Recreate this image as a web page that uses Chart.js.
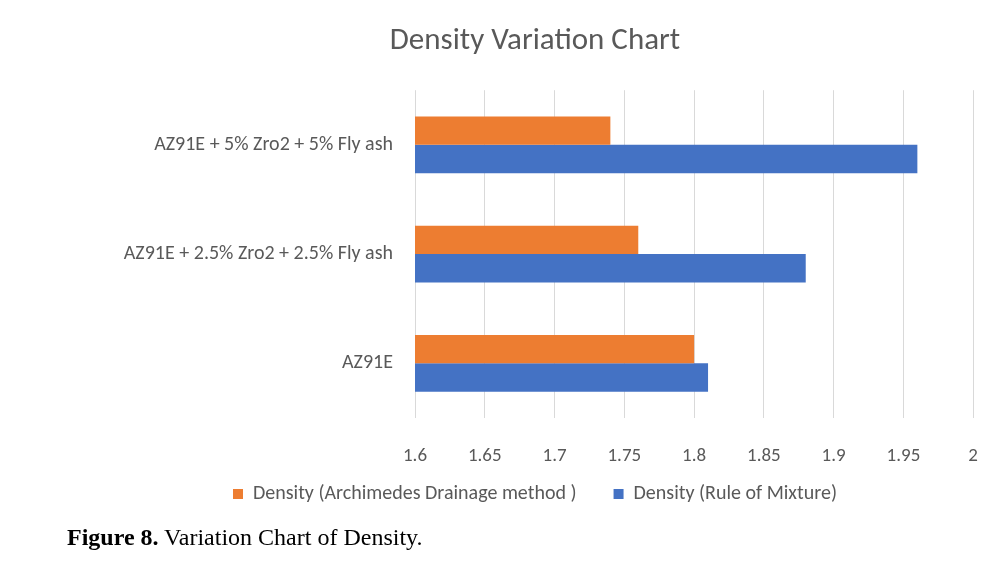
<!DOCTYPE html>
<html>
<head>
<meta charset="utf-8">
<script src="https://cdn.jsdelivr.net/npm/chart.js@4/dist/chart.umd.min.js"></script>
<style>
  html, body { margin: 0; padding: 0; background: #fff; width: 1005px; height: 564px; overflow: hidden; }
  #wrap { position: absolute; left: 61px; top: 0; width: 944px; height: 551px; }
  #caption { position: absolute; left: 67px; top: 524px; font-family: "Liberation Serif", "Times New Roman", serif; font-size: 24px; color: #000; white-space: nowrap; }
</style>
</head>
<body>
<div id="wrap"><canvas id="c"></canvas></div>
<div id="caption"><b>Figure 8.</b> Variation Chart of Density.</div>
<script>
const categories = ["AZ91E + 5% Zro2 + 5% Fly ash", "AZ91E + 2.5% Zro2 + 2.5% Fly ash", "AZ91E"];
const archimedes = [1.74, 1.76, 1.80];
const ruleOfMixture = [1.96, 1.88, 1.81];
const seriesNames = ["Density (Archimedes Drainage method )", "Density (Rule of Mixture)"];
const xMin = 1.6, xMax = 2, xStep = 0.05;

const FONT = '"Carlito", "Lato", "Open Sans", sans-serif';
const GREY = '#595959';

// Lift the legend closer to the axis labels (wide item spacing needs large label padding)
const legendLift = {
  id: 'legendLift',
  afterLayout(chart) {
    const lg = chart.legend;
    if (lg) { lg.top -= 28; lg.bottom -= 28; }
  }
};

new Chart(document.getElementById('c'), {
  type: 'bar',
  data: {
    labels: categories,
    datasets: [
      { label: seriesNames[0], data: archimedes, backgroundColor: '#ED7D31', categoryPercentage: 0.52, barPercentage: 1.0 },
      { label: seriesNames[1], data: ruleOfMixture, backgroundColor: '#4472C4', categoryPercentage: 0.52, barPercentage: 1.0 }
    ]
  },
  plugins: [legendLift],
  options: {
    indexAxis: 'y',
    responsive: true,
    maintainAspectRatio: false,
    animation: false,
    layout: { padding: { left: 34, right: 30, top: 0, bottom: 9 } },
    plugins: {
      title: {
        display: true, text: 'Density Variation Chart',
        color: GREY, font: { family: FONT, size: 31, weight: 'normal' },
        padding: { top: 23, bottom: 30 }
      },
      legend: {
        position: 'bottom',
        labels: { color: GREY, font: { family: FONT, size: 20 }, boxWidth: 10, boxHeight: 10, padding: 37 }
      },
      tooltip: { enabled: false }
    },
    scales: {
      x: {
        min: xMin, max: xMax,
        ticks: { stepSize: xStep, color: GREY, font: { family: FONT, size: 19 }, padding: 27,
          callback: v => String(Math.round(v * 100) / 100) },
        grid: { color: '#d9d9d9', drawTicks: false, lineWidth: 1 },
        border: { display: false },
        afterFit: s => { s.height = 57; }
      },
      y: {
        ticks: { color: GREY, font: { family: FONT, size: 20 }, padding: 22 },
        grid: { display: false, drawTicks: false },
        border: { display: false },
        afterFit: s => { s.width = 320; }
      }
    }
  }
});
</script>
</body>
</html>
